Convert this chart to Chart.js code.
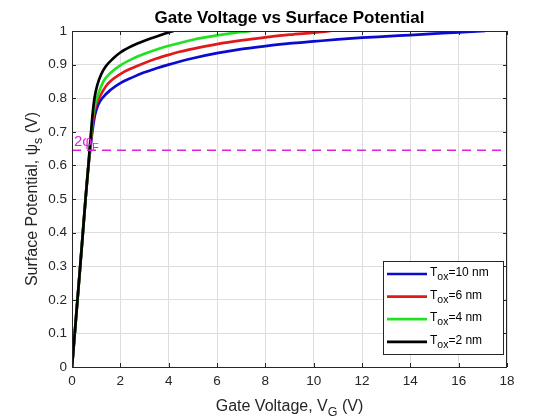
<!DOCTYPE html>
<html>
<head>
<meta charset="utf-8">
<script src="https://cdn.jsdelivr.net/npm/chart.js@4.4.0/dist/chart.umd.min.js"></script>
<style>
  html, body { margin: 0; padding: 0; background: #fff; }
  #wrap { width: 560px; height: 420px; }
</style>
</head>
<body>
<div id="wrap"><canvas id="myChart" width="560" height="420"></canvas></div>
<script>
// values
const xTicks = [0, 2, 4, 6, 8, 10, 12, 14, 16, 18];
const yTicks = [0, 0.1, 0.2, 0.3, 0.4, 0.5, 0.6, 0.7, 0.8, 0.9, 1];
const twoPhiF = 0.645;

const vg10 = [0, 0.17, 0.34, 0.45, 0.56, 0.68, 0.76, 0.84, 0.95, 1.08, 1.25, 1.6, 2.0, 2.5, 3.0, 3.5, 4.0, 4.5, 5.0, 6.0, 7.0, 8.0, 9.0, 10.0, 11.0, 12.0, 13.0, 14.0, 15.0, 16.0, 17.1];
const psi10 = [0, 0.15, 0.3, 0.4, 0.5, 0.6, 0.65, 0.7, 0.75, 0.78, 0.8, 0.825, 0.845, 0.862, 0.877, 0.889, 0.9, 0.91, 0.919, 0.934, 0.946, 0.955, 0.963, 0.969, 0.975, 0.98, 0.984, 0.988, 0.992, 0.996, 1.0];

const vg6 = [0, 0.17, 0.34, 0.45, 0.56, 0.68, 0.75, 0.82, 0.9, 1.0, 1.12, 1.45, 2.0, 2.5, 3.0, 3.5, 4.0, 4.5, 5.0, 6.0, 7.0, 8.0, 9.0, 10.0, 10.7];
const psi6 = [0, 0.15, 0.3, 0.4, 0.5, 0.6, 0.65, 0.7, 0.75, 0.78, 0.8, 0.84, 0.872, 0.89, 0.905, 0.918, 0.929, 0.939, 0.947, 0.961, 0.972, 0.981, 0.989, 0.995, 1.0];

const vg4 = [0, 0.17, 0.34, 0.45, 0.56, 0.68, 0.74, 0.8, 0.87, 0.95, 1.03, 1.3, 1.6, 2.0, 2.5, 3.0, 3.5, 4.0, 4.5, 5.0, 6.0, 7.0, 7.4];
const psi4 = [0, 0.15, 0.3, 0.4, 0.5, 0.6, 0.65, 0.7, 0.75, 0.78, 0.8, 0.85, 0.876, 0.898, 0.917, 0.932, 0.945, 0.956, 0.965, 0.974, 0.987, 0.997, 1.0];

const vg2 = [0, 0.17, 0.34, 0.45, 0.56, 0.68, 0.73, 0.79, 0.85, 0.93, 1.05, 1.2, 1.4, 1.7, 2.0, 2.5, 3.0, 3.68, 4.2];
const psi2 = [0, 0.15, 0.3, 0.4, 0.5, 0.6, 0.65, 0.7, 0.75, 0.8, 0.84, 0.87, 0.895, 0.918, 0.936, 0.956, 0.971, 0.988, 1.0];

const seriesLabels = ['=10 nm', '=6 nm', '=4 nm', '=2 nm'];
const seriesColors = ['#0a0ad0', '#e01a1a', '#22e022', '#000000'];

function pts(xs, ys) {
  let out = [];
  for (let i = 0; i < xs.length; i++) out.push({x: xs[i], y: ys[i]});
  return out;
}

const curves = [pts(vg10, psi10), pts(vg6, psi6), pts(vg4, psi4), pts(vg2, psi2)];

let datasets = [];
for (let i = 0; i < curves.length; i++) {
  datasets.push({
    label: 'Tox' + seriesLabels[i],
    data: curves[i],
    borderColor: seriesColors[i],
    borderWidth: 2.7,
    showLine: true,
    pointRadius: 0,
    cubicInterpolationMode: 'monotone',
    order: 4 - i
  });
}
datasets.push({
  label: '2phiF',
  data: [{x: xTicks[0], y: twoPhiF}, {x: xTicks[xTicks.length - 1], y: twoPhiF}],
  borderColor: '#e020e0',
  borderWidth: 1.6,
  borderDash: [9, 6],
  showLine: true,
  pointRadius: 0,
  order: 0
});

const FONT = '"Liberation Sans", Arial, Helvetica, sans-serif';
const INK = '#262626';

// draw text runs, some of them subscripts
function drawRuns(ctx, runs, x, y, size, subSize, align) {
  let widths = runs.map(r => {
    ctx.font = (r[1] ? subSize : size) + 'px ' + FONT;
    return ctx.measureText(r[0]).width;
  });
  let total = widths.reduce((a, b) => a + b, 0);
  let cx = align === 'center' ? x - total / 2 : x;
  ctx.textAlign = 'left';
  ctx.textBaseline = 'alphabetic';
  for (let i = 0; i < runs.length; i++) {
    ctx.font = (runs[i][1] ? subSize : size) + 'px ' + FONT;
    ctx.fillText(runs[i][0], cx, y + (runs[i][1] ? size * 0.33 : 0));
    cx += widths[i];
  }
}

const decor = {
  id: 'decor',
  afterDraw: function(chart) {
    const ctx = chart.ctx;
    const a = chart.chartArea;
    const xs = chart.scales.x, ys = chart.scales.y;
    ctx.save();
    // box + inward ticks
    ctx.strokeStyle = INK;
    ctx.lineWidth = 1;
    ctx.strokeRect(Math.round(a.left) + 0.5, Math.round(a.top) + 0.5, Math.round(a.right - a.left) - 1, Math.round(a.bottom - a.top));
    ctx.beginPath();
    for (let v of xTicks) {
      let px = Math.round(xs.getPixelForValue(v)) + 0.5;
      ctx.moveTo(px, a.bottom); ctx.lineTo(px, a.bottom - 4);
      ctx.moveTo(px, a.top); ctx.lineTo(px, a.top + 4);
    }
    for (let v of yTicks) {
      let py = Math.round(ys.getPixelForValue(v)) + 0.5;
      ctx.moveTo(a.left, py); ctx.lineTo(a.left + 4, py);
      ctx.moveTo(a.right, py); ctx.lineTo(a.right - 4, py);
    }
    ctx.stroke();

    // title
    ctx.fillStyle = '#000';
    ctx.font = 'bold 17px ' + FONT;
    ctx.textAlign = 'center';
    ctx.textBaseline = 'alphabetic';
    ctx.fillText('Gate Voltage vs Surface Potential', (a.left + a.right) / 2, 23);

    // axis titles
    ctx.fillStyle = INK;
    drawRuns(ctx, [['Gate Voltage, V', false], ['G', true], [' (V)', false]], (a.left + a.right) / 2, 411, 16, 12.5, 'center');
    ctx.save();
    ctx.translate(37, (a.top + a.bottom) / 2);
    ctx.rotate(-Math.PI / 2);
    drawRuns(ctx, [['Surface Potential, \u03C8', false], ['s', true], [' (V)', false]], 0, 0, 16, 12.5, 'center');
    ctx.restore();

    // 2phiF label
    ctx.fillStyle = '#e020e0';
    drawRuns(ctx, [['2\u03C6', false], ['F', true]], a.left + 2, ys.getPixelForValue(twoPhiF) - 4, 15, 11, 'left');

    // legend
    const lx = 383, ly = 261, lw = 120, lh = 93;
    ctx.fillStyle = '#fff';
    ctx.fillRect(lx, ly, lw, lh);
    ctx.strokeStyle = INK;
    ctx.lineWidth = 1;
    ctx.strokeRect(lx + 0.5, ly + 0.5, lw, lh);
    for (let i = 0; i < seriesLabels.length; i++) {
      let ry = ly + 13 + i * 22.6;
      ctx.strokeStyle = seriesColors[i];
      ctx.lineWidth = 2.7;
      ctx.beginPath();
      ctx.moveTo(lx + 4, ry); ctx.lineTo(lx + 44, ry);
      ctx.stroke();
      ctx.fillStyle = '#000';
      drawRuns(ctx, [['T', false], ['ox', true], [seriesLabels[i], false]], lx + 47, ry + 2, 12, 10.5, 'left');
    }
    ctx.restore();
  }
};

const ctx = document.getElementById('myChart').getContext('2d');
const myChart = new Chart(ctx, {
  type: 'scatter',
  data: { datasets: datasets },
  options: {
    responsive: false,
    animation: false,
    layout: { padding: { left: 0, top: 31, right: 53, bottom: 0 } },
    plugins: {
      legend: { display: false },
      title: { display: false },
      tooltip: { enabled: false }
    },
    scales: {
      x: {
        type: 'linear',
        min: xTicks[0],
        max: xTicks[xTicks.length - 1],
        afterBuildTicks: s => { s.ticks = xTicks.map(v => ({value: v})); },
        afterFit: s => { s.height = 53; },
        grid: { color: '#dedede', drawTicks: false },
        border: { display: false },
        ticks: { padding: 6, color: INK, font: { size: 13.5, family: FONT }, maxRotation: 0 }
      },
      y: {
        type: 'linear',
        min: yTicks[0],
        max: yTicks[yTicks.length - 1],
        afterBuildTicks: s => { s.ticks = yTicks.map(v => ({value: v})); },
        afterFit: s => { s.width = 72; },
        grid: { color: '#dedede', drawTicks: false },
        border: { display: false },
        ticks: { padding: 5, color: INK, font: { size: 13.5, family: FONT },
          callback: v => String(Math.round(v * 10) / 10) }
      }
    }
  },
  plugins: [decor]
});
</script>
</body>
</html>
